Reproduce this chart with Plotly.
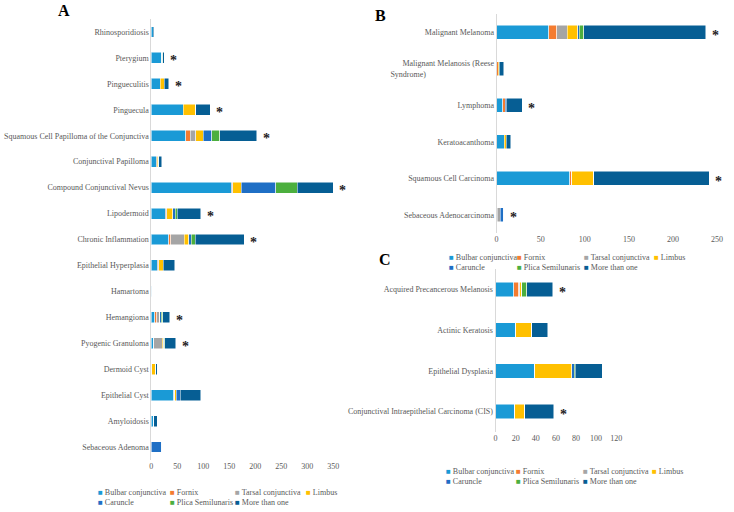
import plotly.graph_objects as go

locations = ["Bulbar conjunctiva", "Fornix", "Tarsal conjunctiva", "Limbus",
             "Caruncle", "Plica Semilunaris", "More than one"]
colors = ["#1a9ad6", "#f47c30", "#a5a5a5", "#ffc000", "#1f6fc5", "#4caf3e", "#065e94"]

# Panel A - benign / inflammatory lesions (top to bottom)
a_lesions = ["Rhinosporidiosis", "Pterygium", "Pingueculitis", "Pinguecula",
             "Squamous Cell Papilloma of the Conjunctiva", "Conjunctival Papilloma",
             "Compound Conjunctival Nevus", "Lipodermoid", "Chronic Inflammation",
             "Epithelial Hyperplasia", "Hamartoma", "Hemangioma", "Pyogenic Granuloma",
             "Dermoid Cyst", "Epithelial Cyst", "Amyloidosis", "Sebaceous Adenoma"]
a_bulbar = [4, 20, 17, 61, 66, 9, 154, 27, 33, 11, 1, 7, 5, 1, 43, 4, 0]
a_fornix = [0, 0, 0, 0, 9, 0, 0, 0, 4, 0, 0, 3, 0, 0, 2, 0, 0]
a_tarsal = [0, 1, 0, 0, 10, 2, 3, 3, 26, 3, 2, 6, 16, 0, 0, 1, 0]
a_limbus = [0, 0, 8, 24, 15, 2, 16, 11, 9, 9, 0, 0, 2, 7, 3, 0, 0]
a_caruncle = [0, 0, 0, 0, 16, 1, 66, 5, 5, 0, 0, 3, 1, 0, 8, 0, 20]
a_plica = [0, 1, 0, 0, 16, 0, 42, 4, 7, 0, 0, 3, 2, 0, 0, 0, 0]
a_more = [2, 3, 8, 28, 71, 6, 69, 45, 95, 22, 0, 13, 21, 3, 39, 6, 0]
a_starred = ["Pterygium", "Pingueculitis", "Pinguecula",
             "Squamous Cell Papilloma of the Conjunctiva", "Compound Conjunctival Nevus",
             "Lipodermoid", "Chronic Inflammation", "Hemangioma", "Pyogenic Granuloma"]

# Panel B - malignant lesions
b_lesions = ["Malignant Melanoma",
             "Malignant Melanosis (Reese<br>Syndrome)" + "\u00a0" * 34,
             "Lymphoma", "Keratoacanthoma", "Squamous Cell Carcinoma",
             "Sebaceous Adenocarcinoma"]
b_bulbar = [59, 0, 7, 9, 83, 1]
b_fornix = [9, 2, 3, 0, 2, 0]
b_tarsal = [12, 0, 0, 0, 0, 3]
b_limbus = [12, 1, 0, 2, 25, 0]
b_caruncle = [2, 0, 1, 0, 0, 4]
b_plica = [5, 0, 0, 0, 0, 0]
b_more = [138, 5, 18, 5, 131, 0]
b_starred = ["Malignant Melanoma", "Lymphoma", "Squamous Cell Carcinoma",
             "Sebaceous Adenocarcinoma"]

# Panel C - premalignant lesions
c_lesions = ["Acquired Precancerous Melanosis", "Actinic Keratosis",
             "Epithelial Dysplasia", "Conjunctival Intraepithelial Carcinoma (CIS)"]
c_bulbar = [18, 20, 39, 19]
c_fornix = [5, 0, 0, 0]
c_tarsal = [1, 0, 0, 0]
c_limbus = [2, 16, 37, 10]
c_caruncle = [0, 0, 2, 0]
c_plica = [5, 0, 1, 0]
c_more = [26, 16, 27, 29]
c_starred = ["Acquired Precancerous Melanosis", "Conjunctival Intraepithelial Carcinoma (CIS)"]

FONT = "Liberation Serif"
GRAY = "#595959"

panels = [
    ("A", a_lesions, [a_bulbar, a_fornix, a_tarsal, a_limbus, a_caruncle, a_plica, a_more],
     a_starred, "x", "y", 0.42),
    ("B", b_lesions, [b_bulbar, b_fornix, b_tarsal, b_limbus, b_caruncle, b_plica, b_more],
     b_starred, "x2", "y2", 0.39),
    ("C", c_lesions, [c_bulbar, c_fornix, c_tarsal, c_limbus, c_caruncle, c_plica, c_more],
     c_starred, "x3", "y3", 0.36),
]

fig = go.Figure()
annotations = []

for name, lesions, series, starred, xa, ya, w in panels:
    for loc, col, vals in zip(locations, colors, series):
        fig.add_trace(go.Bar(
            y=lesions, x=vals, name=loc, orientation="h",
            marker=dict(color=col, line=dict(color="white", width=0.5)),
            width=w, xaxis=xa, yaxis=ya, showlegend=False,
        ))
    totals = [sum(v) for v in zip(*series)]
    for lab, tot in zip(lesions, totals):
        plain = lab.replace("\u00a0", "")
        if plain in starred:
            annotations.append(dict(
                x=tot, y=lab, xref=xa, yref=ya, text="<b>*</b>", showarrow=False,
                xanchor="left", xshift=4, yshift=-3,
                font=dict(family=FONT, size=14, color="#222222")))

# panel letters
for letter, px, py in [("A", 63, 10), ("B", 383, 15), ("C", 387, 259)]:
    annotations.append(dict(
        x=px / 734, y=1 - py / 512, xref="paper", yref="paper", text="<b>%s</b>" % letter,
        showarrow=False, xanchor="center", yanchor="middle",
        font=dict(family=FONT, size=16, color="black")))

# legends, one per panel: 4 entries on the first row, 3 on the second
legend_cols = {"A": [95, 168, 234, 305], "B": [450, 519, 586, 657], "C": [447, 518, 585, 655]}
legend_rows = {"A": [492, 502], "B": [257, 267], "C": [471, 481]}
for key in ["A", "B", "C"]:
    for i, (loc, col) in enumerate(zip(locations, colors)):
        row, cidx = divmod(i, 4)
        annotations.append(dict(
            x=legend_cols[key][cidx] / 734, y=1 - legend_rows[key][row] / 512,
            xref="paper", yref="paper", showarrow=False, xanchor="left", yanchor="middle",
            text='<span style="color:%s">■</span> %s' % (col, loc),
            font=dict(family=FONT, size=8, color=GRAY)))

xcommon = dict(showgrid=False, zeroline=False, showline=False, ticks="",
               tickfont=dict(family=FONT, size=8, color=GRAY))
ycommon = dict(showgrid=False, zeroline=False, showline=True, linecolor="#d9d9d9",
               linewidth=1, ticks="", autorange="reversed",
               tickfont=dict(family=FONT, size=8, color=GRAY))

fig.update_layout(
    width=734, height=512,
    margin=dict(l=0, r=0, t=0, b=0),
    paper_bgcolor="white", plot_bgcolor="white",
    barmode="stack",
    showlegend=False,
    font=dict(family=FONT, size=8, color=GRAY),
    xaxis=dict(xcommon, domain=[151 / 734, 335 / 734], range=[0, 350], dtick=50, anchor="y"),
    yaxis=dict(ycommon, domain=[1 - 460 / 512, 1 - 19 / 512], anchor="x"),
    xaxis2=dict(xcommon, domain=[500 / 734, 723 / 734], range=[0, 250], dtick=50, anchor="y2"),
    yaxis2=dict(ycommon, domain=[1 - 233 / 512, 1 - 14 / 512], anchor="x2"),
    xaxis3=dict(xcommon, domain=[499 / 734, 621 / 734], range=[0, 120], dtick=20, anchor="y3"),
    yaxis3=dict(ycommon, domain=[1 - 432 / 512, 1 - 269 / 512], anchor="x3"),
    annotations=annotations,
)

# the page body has a default 8px margin; drop it so the figure fills the window
fig.write_html("out.html", config={"displayModeBar": False},
               post_script="document.body.style.margin='0';")
